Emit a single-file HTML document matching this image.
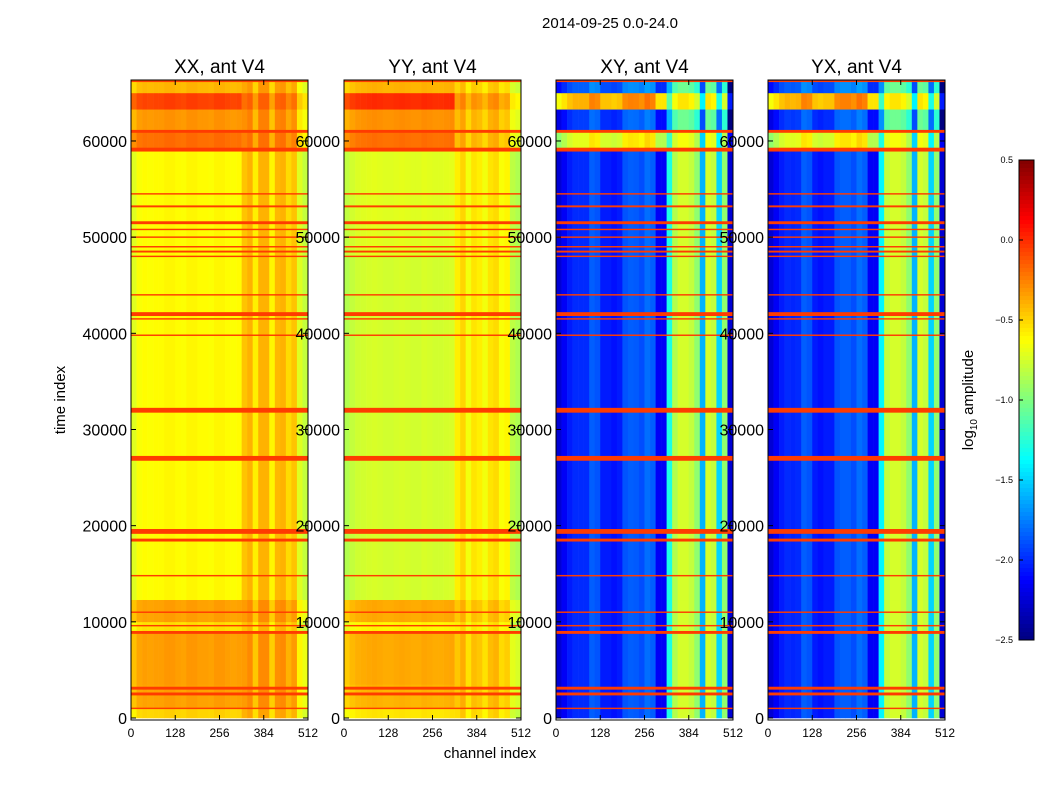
<!DOCTYPE html>
<html><head><meta charset="utf-8">
<style>
body{margin:0;background:#fff;}
svg text{font-family:"Liberation Sans",sans-serif;fill:#000;}
</style></head>
<body>
<svg id="fig" width="1050" height="800" xmlns="http://www.w3.org/2000/svg">
<rect width="1050" height="800" fill="#fff"/>
<text x="610" y="28" font-size="15" text-anchor="middle">2014-09-25 0.0-24.0</text>
<text x="490" y="758" font-size="15" text-anchor="middle">channel index</text>
<text transform="translate(65,400) rotate(-90)" font-size="15" text-anchor="middle">time index</text>
<g id="panels"></g>
<g id="cbar"></g>
</svg>
<script>
const panelTitles = ["XX, ant V4","YY, ant V4","XY, ant V4","YX, ant V4"];
const yTicks = [0,10000,20000,30000,40000,50000,60000];
const xTicks = [0,128,256,384,512];
const cbTicks = [0.5,0.0,-0.5,-1.0,-1.5,-2.0,-2.5];
const cbLabels = ["0.5","0.0","\u22120.5","\u22121.0","\u22121.5","\u22122.0","\u22122.5"];
const segBounds = [0,1000,3500,9000,10000,12300,48000,59000,61000,63300,65000,66340];
const profXX = [-0.72,-0.64,-0.62,-0.63,-0.62,-0.62,-0.6,-0.6,-0.62,-0.63,-0.6,-0.6,-0.62,-0.62,-0.63,-0.6,-0.6,-0.62,-0.63,-0.62,-0.45,-0.4,-0.58,-0.4,-0.4,-0.6,-0.42,-0.4,-0.52,-0.45,-0.72,-0.8];
const profYY = [-0.85,-0.8,-0.77,-0.76,-0.75,-0.74,-0.75,-0.76,-0.76,-0.75,-0.74,-0.75,-0.76,-0.76,-0.74,-0.75,-0.76,-0.76,-0.75,-0.74,-0.58,-0.5,-0.66,-0.55,-0.58,-0.66,-0.55,-0.52,-0.64,-0.6,-0.82,-0.86];
const profXY = [-2.25,-2.15,-2.05,-2.0,-2.0,-2.0,-1.85,-1.88,-2.05,-2.05,-2.08,-2.05,-1.88,-1.85,-1.86,-1.9,-1.8,-1.85,-2.15,-2.15,-1.3,-0.85,-0.75,-0.75,-0.8,-0.95,-1.6,-0.75,-0.8,-1.5,-0.95,-2.25];
const profYX = [-2.25,-2.15,-2.05,-2.0,-2.02,-2.0,-1.85,-1.88,-2.05,-2.08,-2.05,-2.05,-1.88,-1.85,-1.85,-1.9,-1.8,-1.85,-2.15,-2.15,-1.4,-0.8,-0.75,-0.75,-0.8,-0.95,-1.6,-0.75,-0.8,-1.5,-0.95,-2.25];
const offLeftXX  = [0.12,0.27,0.28,0.08,0.27,0,0,0.42,0.3,0.55,0.2];
const offRightXX = [0.05,0.12,0.12,0,0.12,0,0,0.2,0.15,0.25,0.08];
const offLeftYY  = [0.2,0.35,0.38,0.15,0.38,0,0.04,0.55,0.45,0.75,0.35];
const offRightYY = [0.05,0.12,0.12,0,0.12,0,0,0.15,0.15,0.25,0.08];
const offLeftXY  = [0,0,0,0,0,0,0,1.3,0.05,1.6,0.15];
const offRightXY = [0,0,0,0,0,0,0,0.1,-0.3,0.2,-0.3];
const flagTimes  = [1000,2500,3100,8900,9600,11000,14800,18500,19400,27000,32000,39800,41500,42000,44000,48000,48500,49000,50000,50800,51500,53200,54500,59100,61000,66200];
const flagWidths = [150,300,300,300,150,150,150,300,500,500,500,150,150,400,150,150,200,150,150,150,300,200,150,400,300,150];
const flagValue = -0.05;

const profiles=[profXX,profYY,profXY,profYX];
const offL=[offLeftXX,offLeftYY,offLeftXY,offLeftXY];
const offR=[offRightXX,offRightYY,offRightXY,offRightXY];
const panelX=[131,344,556,768], PW=177, TOP=80, BOT=718, TMAX=66340;
const ns="http://www.w3.org/2000/svg";
function yS(t){return BOT-(t/TMAX)*(BOT-TOP);}
function xS(p,c){return panelX[p]+c/512*PW;}
function jet(v){let x=(v+2.5)/3;x=Math.max(0,Math.min(1,x));
 const c=f=>Math.round(255*Math.max(0,Math.min(1,f)));
 return `rgb(${c(1.5-Math.abs(4*x-3))},${c(1.5-Math.abs(4*x-2))},${c(1.5-Math.abs(4*x-1))})`;}
function mk(tag,attrs,parent){const e=document.createElementNS(ns,tag);for(const k in attrs)e.setAttribute(k,attrs[k]);parent.appendChild(e);return e;}
const G=document.getElementById('panels');
for(let p=0;p<4;p++){
 const g=mk('g',{},G);
 
 
 const prof=profiles[p];
 for(let s=0;s<segBounds.length-1;s++){
  const y1=yS(segBounds[s+1]),y0=yS(segBounds[s]);
  for(let b=0;b<prof.length;b++){
   const ch=b*16;
   const off=(ch>=320?offR[p]:offL[p])[s];
   const r=mk('rect',{x:xS(p,ch).toFixed(2),y:y1.toFixed(2),width:(PW/32+0.3).toFixed(2),height:(y0-y1+0.3).toFixed(2),fill:jet(prof[b]+off)},g);
   
   
  }
 }
 for(let f=0;f<flagTimes.length;f++){
  const ya=yS(flagTimes[f]+flagWidths[f]/2),yb=yS(flagTimes[f]-flagWidths[f]/2);
  const r=mk('rect',{x:panelX[p],y:ya.toFixed(2),width:PW,height:Math.max(1,yb-ya).toFixed(2),fill:jet(flagValue)},g);
  
  
 }
 const fr=mk('rect',{x:panelX[p],y:TOP,width:PW,height:BOT-TOP+2,fill:'none',stroke:'#000','stroke-width':1},g);
 
 
 const tt=mk('text',{x:panelX[p]+PW/2,y:73,'font-size':19,'text-anchor':'middle'},g);tt.textContent=panelTitles[p];
 
 
 for(const t of yTicks){const y=yS(t);
  mk('line',{x1:panelX[p],x2:panelX[p]+5,y1:y,y2:y,stroke:'#000'},g);
  mk('line',{x1:panelX[p]+PW-5,x2:panelX[p]+PW,y1:y,y2:y,stroke:'#000'},g);
  const l=mk('text',{x:panelX[p]-4,y:y+6,'font-size':16,'text-anchor':'end'},g);l.textContent=t;
  
  
 }
 for(const c of xTicks){const x=xS(p,c);
  mk('line',{x1:x,x2:x,y1:BOT+2,y2:BOT-3,stroke:'#000'},g);
  mk('line',{x1:x,x2:x,y1:TOP,y2:TOP+5,stroke:'#000'},g);
  const l=mk('text',{x:x,y:737,'font-size':12,'text-anchor':'middle'},g);l.textContent=c;
  
  
 }
}
const C=document.getElementById('cbar');


const CT=160,CB=640,CX=1019,CW=15;
for(let i=0;i<120;i++){const v=0.5-3*(i+0.5)/120;
 mk('rect',{x:CX,y:(CT+i*(CB-CT)/120).toFixed(2),width:CW,height:((CB-CT)/120+0.5).toFixed(2),fill:jet(v)},C);}
mk('rect',{x:CX,y:CT,width:CW,height:CB-CT,fill:'none',stroke:'#000'},C);
for(let i=0;i<cbTicks.length;i++){const y=CT+(0.5-cbTicks[i])/3*(CB-CT);
 mk('line',{x1:CX,x2:CX+4,y1:y,y2:y,stroke:'#000'},C);
 const l=mk('text',{x:1013,y:y+3,'font-size':9,'text-anchor':'end'},C);l.textContent=cbLabels[i];
 
 
}
const cl=mk('text',{transform:'translate(973,400) rotate(-90)','font-size':15,'text-anchor':'middle'},C);
cl.innerHTML='log<tspan font-size="10" dy="4">10</tspan><tspan dy="-4"> amplitude</tspan>';


</script>
</body></html>
